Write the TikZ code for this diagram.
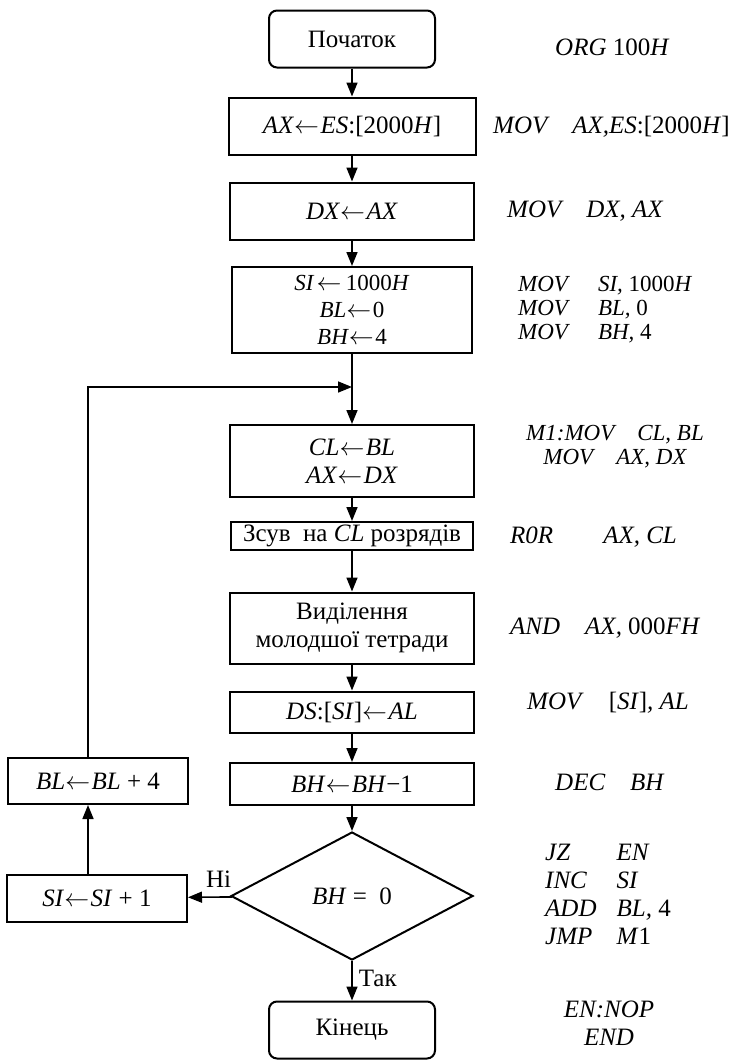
\documentclass[tikz,border=0pt]{standalone}
\usepackage{fontspec}
\setmainfont{Liberation Serif}
\usetikzlibrary{shapes.geometric, arrows.meta}
\newcommand\asn{$\gets$\kern1.5pt}
\tikzset{
  box/.style={draw, line width=2pt, minimum width=244pt, inner sep=2pt, align=center,
    font=\fontsize{25}{28}\selectfont},
  term/.style={box, rounded corners=8pt, minimum width=166pt, minimum height=57pt},
  cond/.style={draw, line width=2pt, diamond, inner sep=0pt, minimum width=242pt,
    minimum height=128pt, font=\fontsize{25}{28}\selectfont},
  code/.style={anchor=west, inner sep=0pt, align=left, font=\fontsize{25}{28}\selectfont\itshape},
  tight/.style={font=\fontsize{23}{27}\selectfont, inner sep=0pt},
  codetight/.style={code, font=\fontsize{23}{24}\selectfont\itshape},
  flow/.style={line width=1.6pt, -{Triangle[length=14pt, width=11pt]}},
  lbl/.style={font=\fontsize{25}{28}\selectfont, inner sep=2pt}
}

\begin{document}
\begin{tikzpicture}[x=1pt, y=-1pt]
\useasboundingbox (0,0) rectangle (739,1061);
% main column
\node[term] (start) at (352,39) {Початок};
\node[box, minimum width=247pt, minimum height=57pt] (ax) at (352,126) {\textit{AX}\asn\textit{ES}:[2000\textit{H}]};
\node[box, minimum height=57pt] (dx) at (352,211) {\textit{DX}\asn\textit{AX}};
\node[box, tight, minimum width=240pt, minimum height=86pt] (si) at (352,310)
  {\textit{SI}\kern2pt\asn\kern3pt 1000\textit{H}\\\textit{BL}\asn 0\\\textit{BH}\asn 4};
\coordinate (join) at (352,387);
\node[box, minimum height=72pt] (cl) at (352,461) {\textit{CL}\asn\textit{BL}\\\textit{AX}\asn\textit{DX}};
\node[box, minimum width=242pt, minimum height=28pt, inner sep=1pt] (shift) at (352,536) {Зсув\ \ на \textit{CL} розрядів};
\node[box, minimum height=71pt] (sel) at (352,628) {Виділення\\молодшої тетради};
\node[box, minimum height=41pt] (ds) at (352,712) {\textit{DS}:[\textit{SI}]\asn\textit{AL}};
\node[box, minimum height=42pt] (bh) at (352,784) {\textit{BH}\asn\textit{BH}−1};
\node[cond] (test) at (352,896) {\textit{BH} = \ 0};
\node[term] (end) at (352,1030) {Кінець};
% loop column
\node[box, minimum width=180pt, minimum height=46pt] (bl) at (98,781) {\textit{BL}\asn\textit{BL} + 4};
\node[box, minimum width=180pt, minimum height=47pt] (inc) at (97,898) {\textit{SI}\asn\textit{SI} + 1};
\coordinate (back) at (88,387);

\draw[flow] (start) -- (ax);
\draw[flow] (ax) -- (dx);
\draw[flow] (dx) -- (si);
\draw[flow] (si) -- (cl);
\draw[flow] (cl) -- (shift);
\draw[flow] (shift) -- (sel);
\draw[flow] (sel) -- (ds);
\draw[flow] (ds) -- (bh);
\draw[flow] (bh) -- (test);
\draw[flow] (test) -- node[lbl, pos=0.45, right=4pt] {Так} (end);
\draw[flow] (test) -- node[lbl, pos=0.3, above=7pt] {Ні} (inc);
\draw[flow] (inc.north -| back) -- (bl.south -| back);
\draw[flow] (bl.north -| back) -- (back) -- (join);

% program text
\node[code] (c0) at (555,47) {ORG \textup{100}H};
\node[code] (c1) at (493,127) {MOV\quad AX,ES\textup{:[2000}H\textup{]}};
\node[code] (c2) at (507,211) {MOV\quad DX, AX};
\node[codetight] (c3) at (518,310)
  {MOV\hspace{30pt}SI, \textup{1000}H\\MOV\hspace{30pt}BL, \textup{0}\\MOV\hspace{30pt}BH, \textup{4}};
\node[codetight, anchor=center, align=center] (c4) at (615,447)
  {M1:MOV\quad CL, BL\\MOV\quad AX, DX};
\node[code] (c5) at (510,537) {R0R\qquad AX, CL};
\node[code] (c6) at (510,628) {AND\quad AX, \textup{000}FH};
\node[code] (c7) at (527,703) {MOV\quad \textup{[}SI\textup{]}, AL};
\node[code] (c8) at (555,782) {DEC\quad BH};
\node[code] (c9) at (545,897)
  {\begin{tabular}{@{}l@{\hspace{20pt}}l@{}}JZ & EN\\INC & SI\\ADD & BL, \textup{4}\\JMP & M\textup{1}\end{tabular}};
\node[code, anchor=center, align=center] (c10) at (609,1023) {EN:NOP\\END};
\end{tikzpicture}
\end{document}
